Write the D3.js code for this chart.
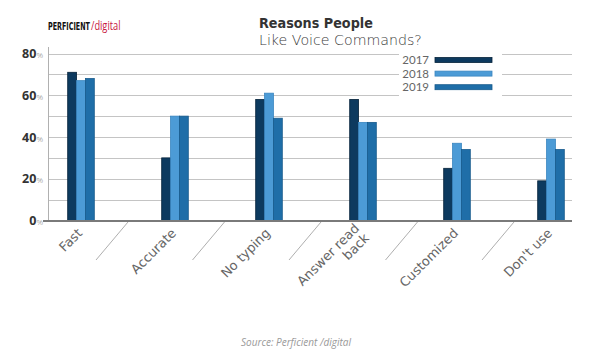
<!DOCTYPE html>
<html><head><meta charset="utf-8">
<script src="https://cdn.jsdelivr.net/npm/d3@7"></script>
<style>body{margin:0;background:#fff}svg{display:block}</style>
</head><body>
<svg id="c" width="599" height="356"></svg>
<script>
const categories = ["Fast", "Accurate", "No typing", "Answer read back", "Customized", "Don't use"];
const categoryLines = [["Fast"], ["Accurate"], ["No typing"], ["Answer read", "back"], ["Customized"], ["Don't use"]];
const years = ["2017", "2018", "2019"];
const values2017 = [71, 30, 58, 58, 25, 19];
const values2018 = [67, 50, 61, 47, 37, 39];
const values2019 = [68, 50, 49, 47, 34, 34];
const gridTicks = [0, 10, 20, 30, 40, 50, 60, 70, 80];
const labelTicks = [0, 20, 40, 60, 80];
const colors = ["#0d3a5f", "#4c9bd6", "#1f6ea8"];
const strokes = ["#06223a", "#3a86c0", "#175a8c"];

const series = [values2017, values2018, values2019];
const svg = d3.select("#c");

const y = d3.scaleLinear().domain([0, 80]).range([220.5, 53.5]);
const x = d3.scaleBand().domain(categories).range([34, 598]).padding(0);
const xSep = d3.scaleBand().domain(categories).range([31.5, 610.5]).padding(0);
const xi = d3.scaleBand().domain(years).range([0, 26.6]);
const plotL = 48, plotR = 572;

// gridlines
const grid = svg.append("g");
gridTicks.filter(t => t > 0).forEach(t => {
  grid.append("line").attr("x1", plotL).attr("x2", plotR)
    .attr("y1", Math.round(y(t)) + 0.5).attr("y2", Math.round(y(t)) + 0.5)
    .attr("stroke", "#c4c4c4").attr("stroke-width", 1);
});
// y axis vertical line
svg.append("line").attr("x1", plotL + 0.5).attr("x2", plotL + 0.5)
  .attr("y1", 47).attr("y2", y(0)).attr("stroke", "#b0b0b0");

// legend box (covers gridlines)
svg.append("rect").attr("x", 399).attr("y", 48).attr("width", 103).attr("height", 48).attr("fill", "#fff");
const lg = svg.append("g");
years.forEach((yr, i) => {
  const cy = 60 + i * 13.6;
  lg.append("text").attr("x", 429).attr("y", cy + 4).attr("text-anchor", "end")
    .attr("font-family", "Lato, 'Open Sans', sans-serif").attr("font-size", 11.5)
    .attr("fill", "#666").text(yr);
  lg.append("rect").attr("x", 435).attr("y", cy - 2.5).attr("width", 57).attr("height", 5)
    .attr("fill", colors[i]).attr("stroke", strokes[i]).attr("stroke-width", 0.8);
});

// bars
const bars = svg.append("g");
categories.forEach((c, ci) => {
  const gx = x(c) + x.bandwidth() / 2 - xi.range()[1] / 2;
  years.forEach((yr, si) => {
    const v = series[si][ci];
    bars.append("rect")
      .attr("x", gx + xi(yr)).attr("width", xi.bandwidth())
      .attr("y", y(v)).attr("height", y(0) - y(v))
      .attr("fill", colors[si]).attr("stroke", strokes[si]).attr("stroke-width", 0.8);
  });
});

// baseline
svg.append("line").attr("x1", 43).attr("x2", plotR).attr("y1", y(0) + 0.5).attr("y2", y(0) + 0.5)
  .attr("stroke", "#7a7a7a").attr("stroke-width", 2);

// y tick labels
labelTicks.forEach(t => {
  const tx = svg.append("text").attr("x", 43).attr("y", y(t) + 4.5).attr("text-anchor", "end")
    .attr("font-family", "'Open Sans', 'DejaVu Sans', sans-serif");
  tx.append("tspan").attr("font-weight", 700).attr("font-size", 12.5).attr("fill", "#333").text(t);
  tx.append("tspan").attr("font-size", 8).attr("fill", "#aaa").text("%");
});

// separators between categories (slanted)
categories.slice(1).forEach(c => {
  const bx = xSep(c);
  svg.append("line").attr("x1", bx).attr("y1", 222).attr("x2", bx - 32).attr("y2", 260)
    .attr("stroke", "#999").attr("stroke-width", 0.8);
});

// category labels rotated
categories.forEach((c, ci) => {
  const cx = x(c) + x.bandwidth() / 2 + 2;
  const lines = categoryLines[ci];
  const t = svg.append("text")
    .attr("transform", `translate(${cx},${234}) rotate(-45)`)
    .attr("text-anchor", "end")
    .attr("font-family", "'DejaVu Sans', sans-serif")
    .attr("font-size", 13).attr("fill", "#666");
  lines.forEach((ln, li) => {
    t.append("tspan").attr("x", 0)
      .attr("dy", li === 0 ? -(lines.length - 1) * 7 : 14).text(ln);
  });
});

// helper: horizontally fit a text to a width with a scale transform
function fitText(sel, x0, y0, w) {
  const nat = sel.node().getComputedTextLength();
  sel.attr("transform", `translate(${x0},${y0}) scale(${w / nat},1)`);
}

// title
const t1 = svg.append("text").attr("font-family", "'DejaVu Sans', sans-serif").attr("font-size", 14)
  .attr("font-weight", 700).attr("fill", "#333").text("Reasons People");
fitText(t1, 259, 28, 114);
const t2 = svg.append("text").attr("font-family", "'DejaVu Sans ExtraLight', 'DejaVu Sans', sans-serif")
  .attr("font-size", 13.5).attr("font-weight", 300).attr("fill", "#3a3a3a").text("Like Voice Commands?");
fitText(t2, 259, 44.5, 163);

// logo
const l1 = svg.append("text").attr("font-family", "'Liberation Sans Narrow', 'DejaVu Sans Condensed', sans-serif")
  .attr("font-size", 11).attr("font-weight", 700).attr("fill", "#111").text("PERFICIENT");
fitText(l1, 48, 30, 42);
const l2 = svg.append("text").attr("font-family", "'Open Sans', sans-serif")
  .attr("font-size", 12).attr("fill", "#c8163e").text("/digital");
fitText(l2, 91, 30, 29.5);

// source
svg.append("text").attr("x", 296).attr("y", 346).attr("text-anchor", "middle")
  .attr("font-family", "'Open Sans', 'DejaVu Sans', sans-serif").attr("font-style", "italic")
  .attr("font-size", 10).attr("fill", "#999").text("Source: Perficient /digital");
</script>
</body></html>
